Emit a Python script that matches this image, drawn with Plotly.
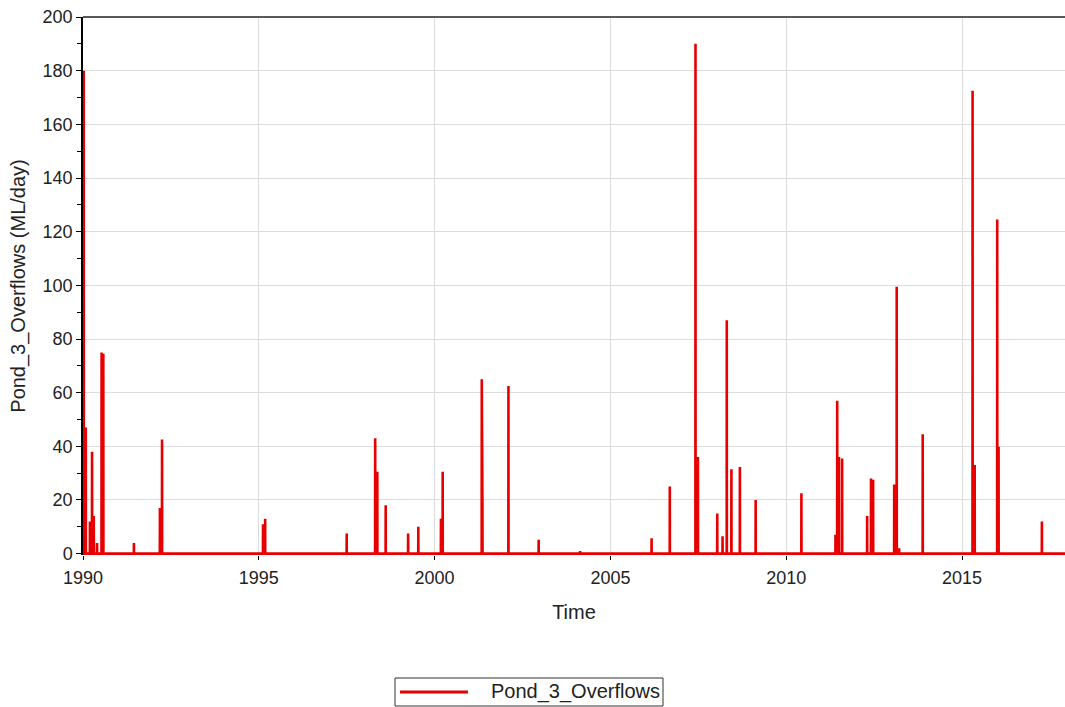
import pandas as pd
import plotly.graph_objects as go

# Overflow events for Pond 3: date of each event and the daily overflow volume (ML/day)
event_dates = [
    "1990-01-09", "1990-01-30", "1990-03-14", "1990-04-05", "1990-04-23",
    "1990-05-27", "1990-07-13", "1990-07-31", "1991-06-14", "1992-03-10",
    "1992-04-01", "1995-02-14", "1995-03-08", "1997-07-02", "1998-04-24",
    "1998-05-16", "1998-08-11", "1999-04-01", "1999-07-16", "2000-03-07",
    "2000-03-25", "2001-05-05", "2001-05-12", "2002-02-06", "2002-12-17",
    "2004-02-21", "2006-03-04", "2006-09-09", "2007-06-03", "2007-06-28",
    "2008-01-15", "2008-03-10", "2008-04-23", "2008-06-10", "2008-09-06",
    "2009-02-17", "2010-06-07", "2011-05-27", "2011-06-14", "2011-07-02",
    "2011-08-04", "2012-04-20", "2012-05-30", "2012-06-21", "2013-01-26",
    "2013-02-21", "2013-03-18", "2013-11-18", "2015-04-20", "2015-05-12",
    "2016-01-01", "2016-01-15", "2017-04-09",
]
event_values = [
    180, 47, 12, 38, 14,
    4, 75, 74.5, 4, 17,
    42.5, 11, 13, 7.5, 43,
    30.5, 18, 7.5, 10, 13,
    30.5, 65, 18, 62.5, 5.2,
    1, 5.7, 25, 190, 36,
    15, 6.5, 87, 31.5, 32.3,
    20, 22.5, 7, 57, 36,
    35.5, 14, 28, 27.5, 25.8,
    99.5, 2, 44.5, 172.5, 33,
    124.5, 39.8, 12,
]

series_name = "Pond_3_Overflows"
start_date = "1990-01-01"
end_date = "2017-12-05"
line_color = "#e80000"

# Build a daily-resolution trace: zero flow except on event days
dates = pd.to_datetime(event_dates)
one_day = pd.Timedelta(days=1)
xs = [pd.Timestamp(start_date)]
ys = [0]
for d, v in zip(dates, event_values):
    xs += [d - one_day, d, d + one_day]
    ys += [0, v, 0]
xs.append(pd.Timestamp(end_date))
ys.append(0)

W, H = 1065, 707
M_L, M_R, M_T, M_B = 83, 0, 17, 152
plot_w = W - M_L - M_R
plot_h = H - M_T - M_B


def px_to_paper(px, py):
    """Convert a page pixel position to paper coordinates of the plot area."""
    return (px - M_L) / plot_w, (H - M_B - py) / plot_h


fig = go.Figure()
fig.add_trace(go.Scatter(
    x=xs, y=ys, mode="lines", name=series_name,
    line=dict(color=line_color, width=2.6),
    showlegend=False,
))

font_family = "Liberation Sans, Arial, sans-serif"

# Legend box drawn below the plot
bx0, by0 = px_to_paper(395, 678)
bx1, by1 = px_to_paper(663, 706)
lx0, ly = px_to_paper(400, 692)
lx1, _ = px_to_paper(468, 692)
tx, _ = px_to_paper(489, 692)

shapes = [
    dict(type="line", xref="paper", yref="paper", x0=0, x1=1, y0=1, y1=1,
         line=dict(color="#222", width=1.5)),
    dict(type="rect", xref="paper", yref="paper", x0=bx0, x1=bx1, y0=by0, y1=by1,
         line=dict(color="#333", width=1), fillcolor="white"),
    dict(type="line", xref="paper", yref="paper", x0=lx0, x1=lx1, y0=ly, y1=ly,
         line=dict(color=line_color, width=3)),
]
annotations = [
    dict(xref="paper", yref="paper", x=tx, y=ly, xanchor="left", yanchor="middle",
         text=series_name, showarrow=False, font=dict(size=20, color="#222")),
]

fig.update_layout(
    width=W, height=H,
    margin=dict(l=M_L, r=M_R, t=M_T, b=M_B),
    paper_bgcolor="white", plot_bgcolor="white",
    font=dict(family=font_family, size=18, color="#222"),
    showlegend=False,
    xaxis=dict(
        type="date",
        range=[start_date, end_date],
        tick0="1990-01-01", dtick="M60", tickformat="%Y",
        showgrid=True, gridcolor="#dcdcdc", gridwidth=1,
        showline=False, zeroline=False,
        ticks="outside", ticklen=4, tickcolor="black",
        ticklabelstandoff=2,
        tickfont=dict(size=18),
        title=dict(text="Time", font=dict(size=20), standoff=18),
        automargin=False,
    ),
    yaxis=dict(
        range=[-0.5, 200],
        tick0=0, dtick=20,
        showgrid=True, gridcolor="#dcdcdc", gridwidth=1,
        showline=True, linecolor="black", linewidth=1.5,
        zeroline=False,
        ticks="outside", ticklen=5, tickcolor="black",
        minor=dict(dtick=10, ticks="outside", ticklen=4, tickcolor="black", showgrid=False),
        tickfont=dict(size=18),
        title=dict(text="Pond_3_Overflows (ML/day)", font=dict(size=20), standoff=12),
        automargin=False,
    ),
    shapes=shapes,
    annotations=annotations,
)

fig.write_html("out.html")
